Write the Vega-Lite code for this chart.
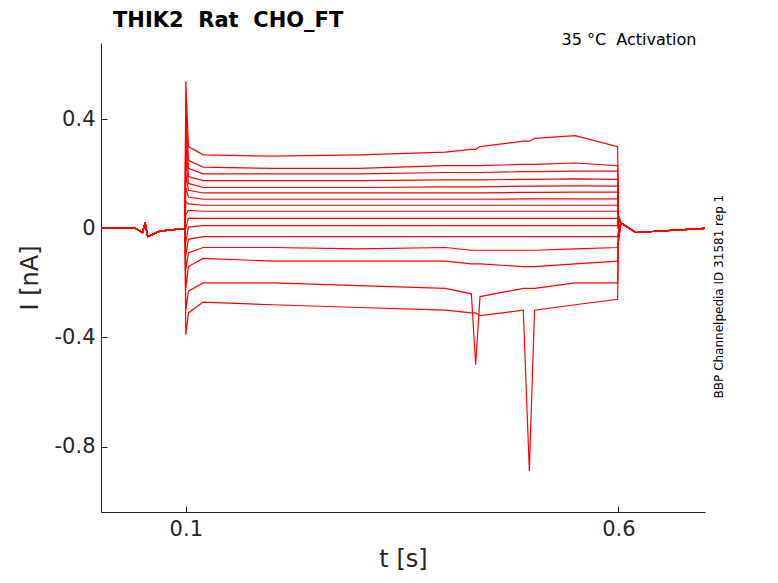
{
"$schema":"https://vega.github.io/schema/vega-lite/v6.json",
"width":604,"height":469,"autosize":"none",
"padding":{"left":101,"top":43,"right":73,"bottom":71},
"background":"white",
"config":{"view":{"stroke":null},"font":"DejaVu Sans"},
"title":{"text":"THIK2\u00a0\u00a0Rat\u00a0\u00a0CHO_FT","anchor":"start","frame":"group","offset":1,"fontSize":21,"fontWeight":"bold","color":"black","dx":12},
"data":{"values":[
{"t":0.002,"a":0,"b":0,"c":0,"d":0,"e":0,"f":0,"g":0,"h":0,"i":0,"j":0,"k":0,"l":0,"m":0,"n":0,"o":0,"p":0},
{"t":0.04,"a":0.003,"b":0.003,"c":0.003,"d":0.003,"e":0.003,"f":0.003,"g":0.003,"h":0.003,"i":0.003,"j":0.003,"k":0.003,"l":0.003,"m":0.003,"n":0.003,"o":0.003,"p":0.003},
{"t":0.05,"a":-0.015,"b":-0.015,"c":-0.015,"d":-0.015,"e":-0.015,"f":-0.015,"g":-0.015,"h":-0.015,"i":-0.015,"j":-0.015,"k":-0.015,"l":-0.015,"m":-0.015,"n":-0.015,"o":-0.015,"p":-0.015},
{"t":0.053,"a":0.02,"b":0.02,"c":0.02,"d":0.02,"e":0.02,"f":0.02,"g":0.02,"h":0.02,"i":0.02,"j":0.02,"k":0.02,"l":0.02,"m":0.02,"n":0.02,"o":0.02,"p":0.02},
{"t":0.056,"a":-0.03,"b":-0.03,"c":-0.03,"d":-0.03,"e":-0.03,"f":-0.03,"g":-0.03,"h":-0.03,"i":-0.03,"j":-0.03,"k":-0.03,"l":-0.03,"m":-0.03,"n":-0.03,"o":-0.03,"p":-0.03},
{"t":0.07,"a":-0.01,"b":-0.01,"c":-0.01,"d":-0.01,"e":-0.01,"f":-0.01,"g":-0.01,"h":-0.01,"i":-0.01,"j":-0.01,"k":-0.01,"l":-0.01,"m":-0.01,"n":-0.01,"o":-0.01,"p":-0.01},
{"t":0.099,"a":0,"b":0,"c":0,"d":0,"e":0,"f":0,"g":0,"h":0,"i":0,"j":0,"k":0,"l":0,"m":0,"n":0,"o":0,"p":0},
{"t":0.1,"a":0.54,"b":0.45,"c":0.38,"d":0.32,"e":0.26,"f":0.2,"g":0.15,"h":0.1,"i":0.05,"j":0,"k":-0.05,"l":-0.1,"m":-0.15,"n":-0.22,"o":-0.3,"p":-0.39},
{"t":0.103,"a":0.3,"b":0.25,"c":0.22,"d":0.19,"e":0.165,"f":0.14,"g":0.115,"h":0.09,"i":0.066,"j":0.038,"k":0.005,"l":-0.04,"m":-0.09,"n":-0.14,"o":-0.23,"p":-0.31},
{"t":0.12,"a":0.27,"b":0.225,"c":0.2,"d":0.175,"e":0.15,"f":0.13,"g":0.107,"h":0.085,"i":0.063,"j":0.037,"k":0.01,"l":-0.03,"m":-0.07,"n":-0.11,"o":-0.2,"p":-0.27},
{"t":0.2,"a":0.265,"b":0.22,"c":0.2,"d":0.175,"e":0.15,"f":0.13,"g":0.107,"h":0.085,"i":0.063,"j":0.037,"k":0.01,"l":-0.03,"m":-0.07,"n":-0.12,"o":-0.2,"p":-0.28},
{"t":0.3,"a":0.27,"b":0.22,"c":0.2,"d":0.175,"e":0.15,"f":0.13,"g":0.107,"h":0.085,"i":0.063,"j":0.037,"k":0.01,"l":-0.03,"m":-0.075,"n":-0.12,"o":-0.21,"p":-0.29},
{"t":0.4,"a":0.28,"b":0.23,"c":0.205,"d":0.178,"e":0.152,"f":0.13,"g":0.107,"h":0.085,"i":0.063,"j":0.037,"k":0.01,"l":-0.03,"m":-0.07,"n":-0.12,"o":-0.22,"p":-0.3},
{"t":0.43,"a":0.29,"b":0.23,"c":0.205,"d":0.178,"e":0.152,"f":0.13,"g":0.107,"h":0.085,"i":0.063,"j":0.037,"k":0.01,"l":-0.03,"m":-0.08,"n":-0.13,"o":-0.24,"p":-0.31},
{"t":0.435,"a":0.29,"b":0.23,"c":0.205,"d":0.178,"e":0.152,"f":0.13,"g":0.107,"h":0.085,"i":0.063,"j":0.037,"k":0.01,"l":-0.03,"m":-0.08,"n":-0.13,"o":-0.5,"p":-0.31},
{"t":0.44,"a":0.3,"b":0.23,"c":0.205,"d":0.178,"e":0.152,"f":0.13,"g":0.107,"h":0.085,"i":0.063,"j":0.037,"k":0.01,"l":-0.03,"m":-0.08,"n":-0.13,"o":-0.25,"p":-0.32},
{"t":0.49,"a":0.32,"b":0.235,"c":0.208,"d":0.18,"e":0.155,"f":0.132,"g":0.108,"h":0.085,"i":0.063,"j":0.037,"k":0.01,"l":-0.03,"m":-0.08,"n":-0.14,"o":-0.22,"p":-0.3},
{"t":0.497,"a":0.32,"b":0.235,"c":0.208,"d":0.18,"e":0.155,"f":0.132,"g":0.108,"h":0.085,"i":0.063,"j":0.037,"k":0.01,"l":-0.03,"m":-0.08,"n":-0.14,"o":-0.22,"p":-0.89},
{"t":0.503,"a":0.33,"b":0.235,"c":0.208,"d":0.18,"e":0.155,"f":0.132,"g":0.108,"h":0.085,"i":0.063,"j":0.037,"k":0.01,"l":-0.03,"m":-0.08,"n":-0.14,"o":-0.22,"p":-0.3},
{"t":0.55,"a":0.34,"b":0.24,"c":0.21,"d":0.182,"e":0.156,"f":0.133,"g":0.108,"h":0.085,"i":0.063,"j":0.037,"k":0.01,"l":-0.03,"m":-0.075,"n":-0.13,"o":-0.2,"p":-0.28},
{"t":0.599,"a":0.3,"b":0.23,"c":0.21,"d":0.18,"e":0.155,"f":0.133,"g":0.108,"h":0.085,"i":0.063,"j":0.037,"k":0.01,"l":-0.03,"m":-0.07,"n":-0.12,"o":-0.2,"p":-0.26},
{"t":0.6,"a":0.05,"b":0.04,"c":0.03,"d":0.02,"e":0.01,"f":0,"g":0,"h":0,"i":0,"j":0,"k":0,"l":-0.01,"m":-0.02,"n":-0.03,"o":-0.04,"p":-0.05},
{"t":0.603,"a":0.02,"b":0.02,"c":0.02,"d":0.02,"e":0.02,"f":0.02,"g":0.02,"h":0.02,"i":0.02,"j":0.02,"k":0.02,"l":0.02,"m":0.02,"n":0.02,"o":0.02,"p":0.02},
{"t":0.62,"a":-0.015,"b":-0.015,"c":-0.015,"d":-0.015,"e":-0.015,"f":-0.015,"g":-0.015,"h":-0.015,"i":-0.015,"j":-0.015,"k":-0.015,"l":-0.015,"m":-0.015,"n":-0.015,"o":-0.015,"p":-0.015},
{"t":0.7,"a":0,"b":0,"c":0,"d":0,"e":0,"f":0,"g":0,"h":0,"i":0,"j":0,"k":0,"l":0,"m":0,"n":0,"o":0,"p":0}
]},
"layer":[
{"transform":[{"fold":["a","b","c","d","e","f","g","h","i","j","k","l","m","n","o","p"],"as":["trace","I"]}],
"mark":{"type":"line","color":"#ff0000","strokeWidth":1.2,"clip":true},
"encoding":{
"x":{"field":"t","type":"quantitative","scale":{"domain":[0.002,0.7],"nice":false,"zero":false},
"axis":{"values":[0.1,0.6],"format":".1f","title":"t [s]","titleFontSize":24,"titleFontWeight":"normal","labelFontSize":21,"labelColor":"#262626","titleColor":"#262626","grid":false,"domainColor":"#262626","tickColor":"#262626","tickSize":-6,"labelPadding":12,"titlePadding":8}},
"y":{"field":"I","type":"quantitative","scale":{"domain":[-1.04,0.68],"nice":false,"zero":false},
"axis":{"values":[-0.8,-0.4,0,0.4],"labelExpr":"datum.value==0?'0':replace(format(datum.value,'.1f'),'\u2212','-')","title":"I [nA]","titleFontSize":24,"titleFontWeight":"normal","labelFontSize":21,"labelColor":"#262626","titleColor":"#262626","grid":false,"domainColor":"#262626","tickColor":"#262626","tickSize":-6,"labelPadding":12,"titlePadding":12}},
"detail":{"field":"trace"}}},
{"data":{"values":[{}]},"mark":{"type":"text","align":"right","baseline":"middle","fontSize":16,"color":"black"},
"encoding":{"x":{"datum":0.69},"y":{"datum":0.69},"text":{"value":"35 °C\u00a0\u00a0Activation"}}},
{"data":{"values":[{}]},"mark":{"type":"text","align":"center","baseline":"middle","fontSize":12,"angle":270,"color":"black"},
"encoding":{"x":{"datum":0.716},"y":{"datum":-0.25},"text":{"value":"BBP Channelpedia ID 31581 rep 1"}}}
]
}
